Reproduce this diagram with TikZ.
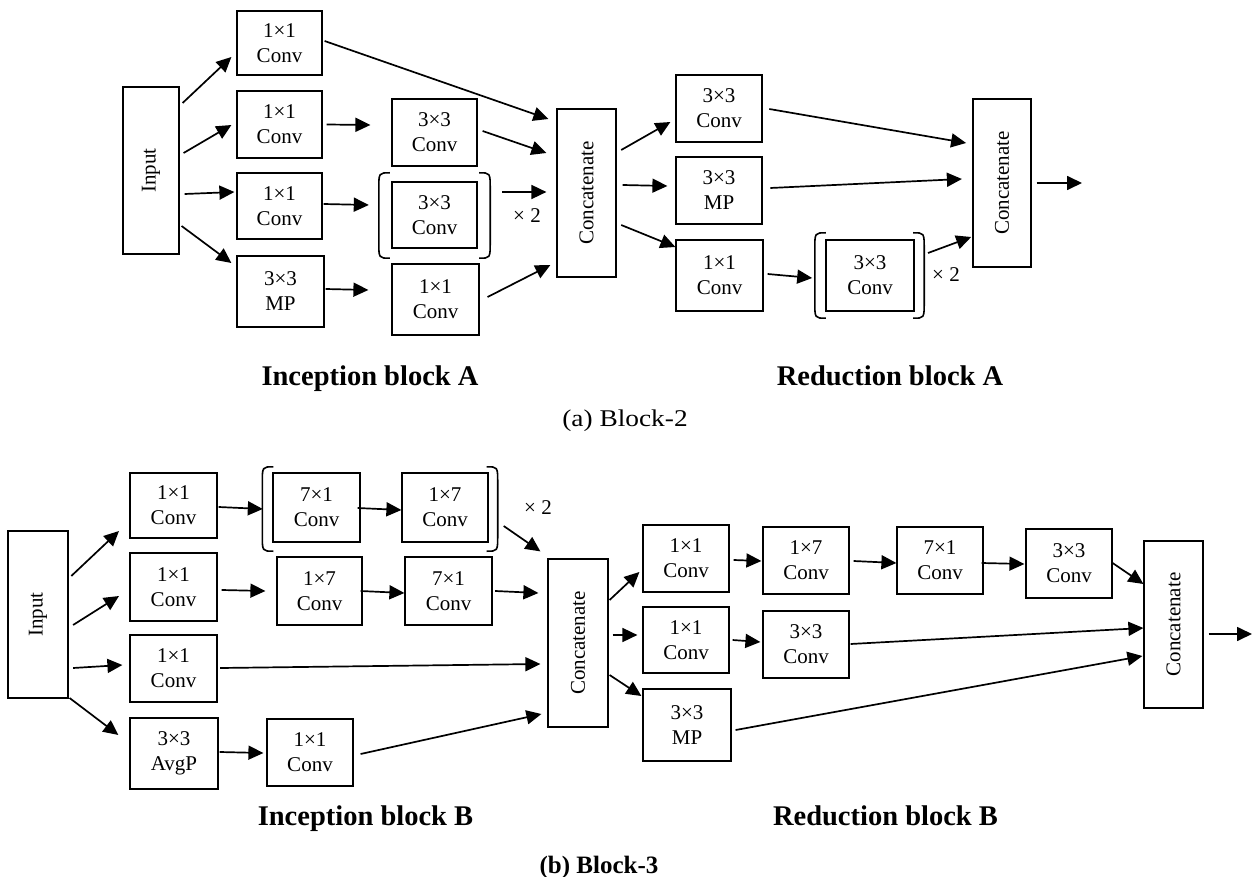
\documentclass[tikz,border=0pt]{standalone}
\usepackage{fontspec}
\setmainfont{Liberation Serif}
\usepackage{graphicx}
\usetikzlibrary{arrows.meta,calc}
\tikzset{
  box/.style={draw, line width=1.2pt, inner sep=0pt, align=center, font=\fontsize{21}{25}\selectfont},
  arr/.style={line width=1.7pt, -{Triangle[length=15pt,width=14pt]}},
  brk/.style={line width=1.6pt},
  brkarea/.style={inner sep=0pt},
  lbl/.style={font=\bfseries\fontsize{28.5}{30}\selectfont, anchor=base, inner sep=0pt},
  times/.style={font=\fontsize{21}{24}\selectfont, inner sep=0pt},
}
\newcommand{\brackets}[1]{%
  \draw[brk] ([xshift=11pt]#1.north west) .. controls (#1.north west) .. ([yshift=-16pt]#1.north west)
     -- ([yshift=16pt]#1.south west) .. controls (#1.south west) .. ([xshift=11pt]#1.south west);
  \draw[brk] ([xshift=-11pt]#1.north east) .. controls (#1.north east) .. ([yshift=-16pt]#1.north east)
     -- ([yshift=16pt]#1.south east) .. controls (#1.south east) .. ([xshift=-11pt]#1.south east);
}
\begin{document}
\begin{tikzpicture}[x=1pt,y=-1pt]
\fill[white] (0,0) rectangle (1253,877);
\useasboundingbox (0,0) rectangle (1253,877);

% ---------------- Block A ----------------
\node[box, minimum width=56pt, minimum height=167pt] (inA) at (151,170.5) {\rotatebox{90}{Input}};
\node[box, minimum width=85pt, minimum height=64pt] (a1) at (279.5,43) {1×1\\Conv};
\node[box, minimum width=85pt, minimum height=67pt] (a2) at (279.5,124.5) {1×1\\Conv};
\node[box, minimum width=85pt, minimum height=66pt] (a3) at (279.5,206) {1×1\\Conv};
\node[box, minimum width=87pt, minimum height=71pt] (a4) at (280.5,291.5) {3×3\\MP};
\node[box, minimum width=85pt, minimum height=67pt] (a5) at (434.5,132.5) {3×3\\Conv};
\node[box, minimum width=85pt, minimum height=66pt] (a6) at (434.5,215) {3×3\\Conv};
\node[box, minimum width=87pt, minimum height=71pt] (a7) at (435.5,299.5) {1×1\\Conv};
\node[brkarea, minimum width=111pt, minimum height=85pt] (brA1) at (434.5,215.5) {};
\brackets{brA1}
\node[times] (xA1) at (527,216) {× 2};
\node[box, minimum width=59pt, minimum height=168pt] (cA1) at (586.5,193) {\rotatebox{90}{Concatenate}};

\node[box, minimum width=86pt, minimum height=67pt] (rA1) at (719,108.5) {3×3\\Conv};
\node[box, minimum width=86pt, minimum height=67pt] (rA2) at (719,190.5) {3×3\\MP};
\node[box, minimum width=87pt, minimum height=71pt] (rA3) at (719.5,275.5) {1×1\\Conv};
\node[box, minimum width=88pt, minimum height=71pt] (rA4) at (870,275.5) {3×3\\Conv};
\node[brkarea, minimum width=109pt, minimum height=85pt] (brA2) at (869.5,275.5) {};
\brackets{brA2}
\node[times] (xA2) at (946,275) {× 2};
\node[box, minimum width=58pt, minimum height=168pt] (cA2) at (1002,183) {\rotatebox{90}{Concatenate}};
\coordinate (outA) at (1082,183);

\draw[arr] ($(inA.east)+(3,-67.5)$) -- ($(a1.west)+(-5,14)$);
\draw[arr] ($(inA.east)+(4,-17.5)$) -- ($(a2.west)+(-5,0.5)$);
\draw[arr] ($(inA.east)+(5,23.5)$) -- ($(a3.west)+(-2,-14)$);
\draw[arr] ($(inA.east)+(2,55.5)$) -- ($(a4.west)+(-5,-28.5)$);
\draw[arr] ($(a1.east)+(2,-2)$) -- ($(cA1.west)+(-8,-74)$);
\draw[arr] ($(a2.east)+(4,0)$) -- ($(a5.west)+(-21,-7.5)$);
\draw[arr] ($(a5.east)+(5,-1.5)$) -- ($(cA1.west)+(-10,-40)$);
\draw[arr] ($(a3.east)+(1,-2)$) -- ($(brA1.west)+(-10,-10.5)$);
\draw[arr] ($(brA1.east)+(12,-23.5)$) -- ($(cA1.west)+(-10,-1)$);
\draw[arr] ($(a4.east)+(1,-2.5)$) -- ($(a7.west)+(-23,-9.5)$);
\draw[arr] ($(a7.east)+(8,-2.5)$) -- ($(cA1.west)+(-6,72)$);
\draw[arr] ($(cA1.east)+(4.6,-43)$) -- ($(rA1.west)+(-5,13.5)$);
\draw[arr] ($(cA1.east)+(6,-8)$) -- ($(rA2.west)+(-8,-4.5)$);
\draw[arr] ($(cA1.east)+(4.6,32)$) -- ($(rA3.west)+(0,-28.5)$);
\draw[arr] ($(rA1.east)+(6.7,0.5)$) -- ($(cA2.west)+(-6.3,-40)$);
\draw[arr] ($(rA2.east)+(7.7,-2.5)$) -- ($(cA2.west)+(-10.5,-4)$);
\draw[arr] ($(rA3.east)+(4,-1.5)$) -- ($(brA2.west)+(-2.6,2.5)$);
\draw[arr] ($(brA2.east)+(3.8,-22.5)$) -- ($(cA2.west)+(-1.2,54)$);
\draw[arr] ($(cA2.east)+(5,0)$) -- (outA);

\node[lbl] (tIA) at (370,385) {Inception block A};
\node[lbl] (tRA) at (890,385) {Reduction block A};
\node[anchor=base, inner sep=0pt, font=\fontsize{24}{26}\selectfont] (capA) at (625,426) {\scalebox{1.14}[1]{(a) Block-2}};

% ---------------- Block B ----------------
\node[box, minimum width=60pt, minimum height=167pt] (inB) at (38,614.5) {\rotatebox{90}{Input}};
\node[box, minimum width=87pt, minimum height=65pt] (b1) at (173.5,505.5) {1×1\\Conv};
\node[box, minimum width=87pt, minimum height=68pt] (b2) at (173.5,587) {1×1\\Conv};
\node[box, minimum width=87pt, minimum height=67pt] (b3) at (173.5,668.5) {1×1\\Conv};
\node[box, minimum width=88pt, minimum height=71pt] (b4) at (174,753.5) {3×3\\AvgP};
\node[box, minimum width=86pt, minimum height=67pt] (b5) at (310,752.5) {1×1\\Conv};
\node[box, minimum width=87pt, minimum height=69pt] (b6) at (316.5,507.5) {7×1\\Conv};
\node[box, minimum width=86pt, minimum height=69pt] (b7) at (445,507.5) {1×7\\Conv};
\node[brkarea, minimum width=235pt, minimum height=84pt] (brB) at (380,509) {};
\brackets{brB}
\node[times] (xB) at (538,508) {× 2};
\node[box, minimum width=85pt, minimum height=68pt] (b8) at (319.5,591) {1×7\\Conv};
\node[box, minimum width=87pt, minimum height=68pt] (b9) at (448.5,591) {7×1\\Conv};
\node[box, minimum width=60pt, minimum height=168pt] (cB1) at (578,643) {\rotatebox{90}{Concatenate}};

\node[box, minimum width=86pt, minimum height=67pt] (s1) at (686,558.5) {1×1\\Conv};
\node[box, minimum width=86pt, minimum height=67pt] (s2) at (806,560.5) {1×7\\Conv};
\node[box, minimum width=86pt, minimum height=67pt] (s3) at (940,560.5) {7×1\\Conv};
\node[box, minimum width=86pt, minimum height=69pt] (s4) at (1069,563.5) {3×3\\Conv};
\node[box, minimum width=86pt, minimum height=66pt] (s5) at (686,640) {1×1\\Conv};
\node[box, minimum width=86pt, minimum height=67pt] (s6) at (806,644.5) {3×3\\Conv};
\node[box, minimum width=88pt, minimum height=72pt] (s7) at (687,725) {3×3\\MP};
\node[box, minimum width=59pt, minimum height=167pt] (cB2) at (1173.5,624.5) {\rotatebox{90}{Concatenate}};
\coordinate (outB) at (1252,634);

\draw[arr] ($(inB.east)+(2.7,-38.5)$) -- ($(b1.west)+(-10.4,25.5)$);
\draw[arr] ($(inB.east)+(4.5,10.5)$) -- ($(b2.west)+(-10.4,9)$);
\draw[arr] ($(inB.east)+(4.5,53.5)$) -- ($(b3.west)+(-7,-3.5)$);
\draw[arr] ($(inB.east)+(1,83.5)$) -- ($(b4.west)+(-11,-18.5)$);
\draw[arr] ($(b1.east)+(1,1.5)$) -- ($(brB.west)+(0.5,0)$);
\draw[arr] ($(b6.east)+(-3,0.5)$) -- ($(b7.west)+(0,2.5)$);
\draw[arr] ($(brB.east)+(6,17)$) -- ($(cB1.north west)+(-7,-7)$);
\draw[arr] ($(b2.east)+(4,3)$) -- ($(b8.west)+(-11,0)$);
\draw[arr] ($(b8.east)+(-2,0)$) -- ($(b9.west)+(0,2)$);
\draw[arr] ($(b9.east)+(2.6,0)$) -- ($(cB1.west)+(-9,-50)$);
\draw[arr] ($(b3.east)+(2.6,-0.5)$) -- ($(cB1.west)+(-7,21)$);
\draw[arr] ($(b4.east)+(1,-1.5)$) -- ($(b5.west)+(-3,0.5)$);
\draw[arr] ($(b5.east)+(7,1.5)$) -- ($(cB1.west)+(-6,71)$);
\draw[arr] ($(cB1.east)+(1,-43)$) -- ($(s1.west)+(-3,13.5)$);
\draw[arr] ($(cB1.east)+(4,-8)$) -- ($(s5.west)+(-5,-5)$);
\draw[arr] ($(cB1.east)+(1,32)$) -- ($(s7.west)+(-1,-29)$);
\draw[arr] ($(s1.east)+(4,1.5)$) -- ($(s2.west)+(-1,0.5)$);
\draw[arr] ($(s2.east)+(4,0.5)$) -- ($(s3.west)+(0,2.5)$);
\draw[arr] ($(s3.east)+(-2,2.5)$) -- ($(s4.west)+(-1,0.5)$);
\draw[arr] ($(s5.east)+(3,0)$) -- ($(s6.west)+(-2,-2.5)$);
\draw[arr] ($(s6.east)+(1,-0.5)$) -- ($(cB2.west)+(0,3.5)$);
\draw[arr] ($(s7.east)+(4,5)$) -- ($(cB2.west)+(-1,31.5)$);
\draw[arr] ($(s4.east)+(0,-0.5)$) -- ($(cB2.west)+(0,-40.5)$);
\draw[arr] ($(cB2.east)+(5,9.5)$) -- (outB);

\node[lbl] (tIB) at (365.5,825) {Inception block B};
\node[lbl] (tRB) at (885.5,825) {Reduction block B};
\node[anchor=base, inner sep=0pt, font=\bfseries\fontsize{25}{27}\selectfont] (capB) at (599,873) {(b) Block-3};
\end{tikzpicture}
\end{document}
